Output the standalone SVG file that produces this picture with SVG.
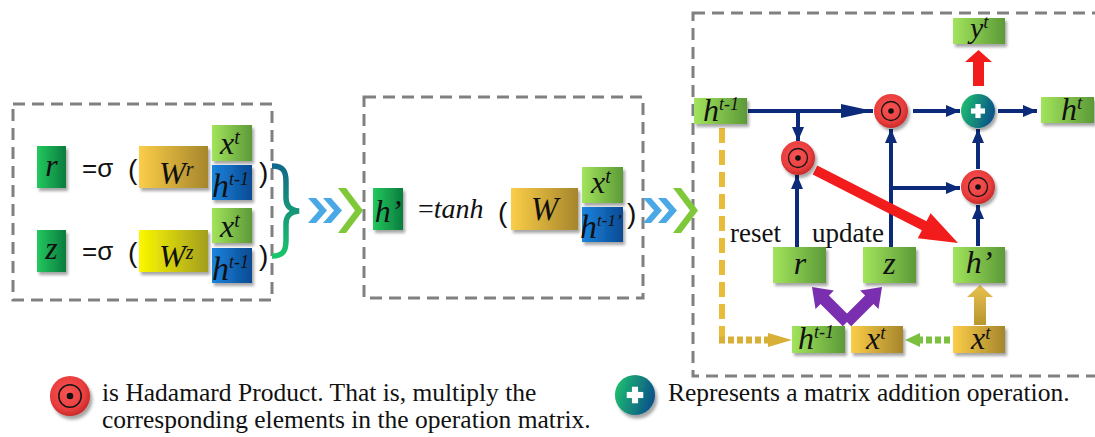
<svg xmlns="http://www.w3.org/2000/svg" width="1095" height="437" viewBox="0 0 1095 437">
  <defs>
    <linearGradient id="gDark" x1="0" y1="0" x2="1" y2="0">
      <stop offset="0" stop-color="#22c85e"/><stop offset="1" stop-color="#0b7c3e"/>
    </linearGradient>
    <linearGradient id="gLight" x1="0" y1="0" x2="1" y2="0">
      <stop offset="0" stop-color="#a2e45c"/><stop offset="1" stop-color="#5c9a38"/>
    </linearGradient>
    <linearGradient id="gBlue" x1="0" y1="0" x2="1" y2="0">
      <stop offset="0" stop-color="#1b84de"/><stop offset="1" stop-color="#0a4a92"/>
    </linearGradient>
    <linearGradient id="gGold" x1="0" y1="0" x2="1" y2="0">
      <stop offset="0" stop-color="#fbcd48"/><stop offset="1" stop-color="#a6862c"/>
    </linearGradient>
    <linearGradient id="gYellow" x1="0" y1="0" x2="1" y2="0">
      <stop offset="0" stop-color="#fcf800"/><stop offset="1" stop-color="#a29e1e"/>
    </linearGradient>
    <radialGradient id="gRed" cx="0.45" cy="0.42" r="0.6">
      <stop offset="0" stop-color="#f65454"/><stop offset="0.7" stop-color="#ea3e3e"/><stop offset="1" stop-color="#c42828"/>
    </radialGradient>
    <linearGradient id="gTeal" x1="0" y1="0" x2="1" y2="0.3">
      <stop offset="0" stop-color="#1fc86c"/><stop offset="1" stop-color="#0d5888"/>
    </linearGradient>
    <linearGradient id="gBrace" x1="0" y1="0" x2="0" y2="1">
      <stop offset="0" stop-color="#12698a"/><stop offset="1" stop-color="#1bc46a"/>
    </linearGradient>
    <linearGradient id="gGoldV" x1="0" y1="0" x2="0" y2="1">
      <stop offset="0" stop-color="#e8c050"/><stop offset="1" stop-color="#b8962e"/>
    </linearGradient>
    <filter id="sh" x="-20%" y="-20%" width="150%" height="160%">
      <feDropShadow dx="2" dy="3" stdDeviation="1.5" flood-color="#000" flood-opacity="0.35"/>
    </filter>
    <marker id="ah" viewBox="0 0 10 10" refX="10" refY="5" markerUnits="userSpaceOnUse" markerWidth="14" markerHeight="12" preserveAspectRatio="none" orient="auto">
      <path d="M0,0 L10,5 L0,10 z" fill="#0c2a7a"/>
    </marker>
    <marker id="ahL" viewBox="0 0 10 10" refX="10" refY="5" markerUnits="userSpaceOnUse" markerWidth="32" markerHeight="14" preserveAspectRatio="none" orient="auto">
      <path d="M0,0 L10,5 L0,10 z" fill="#0c2a7a"/>
    </marker>
    <g id="hadamard">
      <circle r="17" fill="url(#gRed)" filter="url(#sh)"/>
      <circle r="9.5" fill="none" stroke="#151515" stroke-width="1.3"/>
      <circle r="2.8" fill="#111"/>
    </g>
    <g id="plus">
      <circle r="17" fill="url(#gTeal)" filter="url(#sh)"/>
      <rect x="-7" y="-2.6" width="14" height="5.2" fill="#fff"/>
      <rect x="-2.6" y="-7" width="5.2" height="14" fill="#fff"/>
    </g>
    <polygon id="chevS" points="0,0 8,0 19,12.5 8,25 0,25 11,12.5"/>
    <polygon id="chevL" points="0,0 8,0 25,22.5 8,45 0,45 17,22.5"/>
  </defs>
  <style>
    .frame { fill: none; stroke: #808080; stroke-width: 3; stroke-dasharray: 12 7; }
    .box { filter: url(#sh); }
    .m { font-family: "Liberation Serif", "Times New Roman", serif; font-style: italic; fill: #111; }
    .s { font-family: "Liberation Sans", Arial, sans-serif; fill: #111; }
    .t { font-family: "Liberation Serif", "Times New Roman", serif; fill: #111; }
    .nv { stroke: #0c2a7a; stroke-width: 4; fill: none; }
    .blue { fill: #4aa8e6; }
    .green { fill: #7ec83a; }
  </style>

  <rect fill="#fff" x="0" y="0" width="1095" height="437"/>

  <!-- panel frames -->
  <g id="frames">
    <rect class="frame" x="13" y="104" width="259" height="196"/>
    <rect class="frame" x="364" y="97" width="279" height="201"/>
    <rect class="frame" x="693" y="13" width="420" height="363"/>
  </g>

  <!-- gate equations -->
  <g id="eq-r">
    <rect class="box" x="37" y="146" width="29" height="42" fill="url(#gDark)"/>
    <text class="m" x="51.5" y="176" font-size="32" text-anchor="middle">r</text>
    <text class="s" x="82" y="177" font-size="26">=σ</text>
    <text class="s" x="128" y="179" font-size="28">(</text>
    <rect class="box" x="139" y="146" width="69" height="42" fill="url(#gGold)"/>
    <text class="m" x="159" y="184" font-size="32">W<tspan font-size="20" dy="-8">r</tspan></text>
    <rect class="box" x="212" y="125" width="40" height="36" fill="url(#gLight)"/>
    <text class="m" x="220" y="154" font-size="32">x<tspan font-size="20" dy="-10">t</tspan></text>
    <rect class="box" x="212" y="165" width="40" height="35" fill="url(#gBlue)"/>
    <text class="m" x="212" y="197" font-size="34">h<tspan font-size="18" dy="-12">t-1</tspan></text>
    <text class="s" x="259" y="182" font-size="28">)</text>
  </g>
  <g id="eq-z">
    <rect class="box" x="37" y="230" width="29" height="42" fill="url(#gDark)"/>
    <text class="m" x="51.5" y="259" font-size="32" text-anchor="middle">z</text>
    <text class="s" x="82" y="260" font-size="26">=σ</text>
    <text class="s" x="128" y="262" font-size="28">(</text>
    <rect class="box" x="139" y="230" width="69" height="42" fill="url(#gYellow)"/>
    <text class="m" x="159" y="267" font-size="32">W<tspan font-size="20" dy="-8">z</tspan></text>
    <rect class="box" x="212" y="208" width="40" height="35" fill="url(#gLight)"/>
    <text class="m" x="220" y="237" font-size="32">x<tspan font-size="20" dy="-10">t</tspan></text>
    <rect class="box" x="212" y="248" width="40" height="35" fill="url(#gBlue)"/>
    <text class="m" x="212" y="280" font-size="34">h<tspan font-size="18" dy="-12">t-1</tspan></text>
    <text class="s" x="259" y="265" font-size="28">)</text>
  </g>
  <g id="brace">
    <path d="M272,166 C284,166 286,172 286,182 L286,198 C286,206 290,210 299,211 C290,212 286,216 286,224 L286,240 C286,250 284,256 272,256" fill="none" stroke="url(#gBrace)" stroke-width="5.5"/>
  </g>

  <!-- flow chevrons -->
  <g id="chevrons-1">
    <use href="#chevS" class="blue" x="308" y="198"/>
    <use href="#chevS" class="blue" x="323" y="198"/>
    <use href="#chevL" class="green" x="338" y="188"/>
  </g>

  <!-- candidate state equation -->
  <g id="eq-h">
    <rect class="box" x="373" y="188" width="30" height="42" fill="url(#gDark)"/>
    <text class="m" x="388" y="222" font-size="32" text-anchor="middle">h’</text>
    <text class="t" x="418" y="218" font-size="28">=<tspan font-style="italic">tanh</tspan></text>
    <text class="s" x="498" y="222" font-size="28">(</text>
    <rect class="box" x="511" y="188" width="67" height="42" fill="url(#gGold)"/>
    <text class="m" x="544.5" y="220" font-size="33" text-anchor="middle">W</text>
    <rect class="box" x="582" y="167" width="41" height="36" fill="url(#gLight)"/>
    <text class="m" x="591" y="193" font-size="32">x<tspan font-size="20" dy="-10">t</tspan></text>
    <rect class="box" x="582" y="207" width="41" height="35" fill="url(#gBlue)"/>
    <text class="m" x="580" y="238" font-size="34">h<tspan font-size="17" dy="-12">t-1’</tspan></text>
    <text class="s" x="627" y="223" font-size="28">)</text>
  </g>

  <g id="chevrons-2">
    <use href="#chevS" class="blue" x="643" y="198"/>
    <use href="#chevS" class="blue" x="658" y="198"/>
    <use href="#chevL" class="green" x="673" y="188"/>
  </g>

  <!-- GRU cell connectors -->
  <g id="connectors">
    <line class="nv" x1="748" y1="111" x2="873" y2="111" marker-end="url(#ahL)"/>
    <line class="nv" x1="798" y1="111" x2="798" y2="141" marker-end="url(#ah)"/>
    <line class="nv" x1="797" y1="247" x2="797" y2="175" marker-end="url(#ah)"/>
    <line class="nv" x1="891" y1="247" x2="891" y2="129" marker-end="url(#ah)"/>
    <line class="nv" x1="889" y1="188" x2="960" y2="188" marker-end="url(#ah)"/>
    <line class="nv" x1="978" y1="246" x2="978" y2="205" marker-end="url(#ah)"/>
    <line class="nv" x1="978" y1="169" x2="978" y2="129" marker-end="url(#ah)"/>
    <line class="nv" x1="913" y1="111" x2="960" y2="111" marker-end="url(#ah)"/>
    <line class="nv" x1="998" y1="111" x2="1037" y2="111" marker-end="url(#ah)"/>
    <!-- reset-gated state into candidate -->
    <polygon fill="#f21c1c" points="817.3,165.6 926.5,221.3 930.6,213.2 958,243 917.8,238.2 921.9,230.2 812.7,174.5"/>
    <!-- output -->
    <polygon fill="#f21c1c" points="973,86 973,62 965,62 978.5,50 992,62 984,62 984,86"/>
    <!-- inputs into gates -->
    <polygon fill="#7a2eb0" points="851.2,317.8 828.9,295.5 833.9,290.5 812,287 815.5,308.9 820.5,303.9 842.8,326.2"/>
    <polygon fill="#7a2eb0" points="842.8,317.8 865.1,295.5 860.1,290.5 882,287 878.5,308.9 873.5,303.9 851.2,326.2"/>
    <polygon fill="url(#gGoldV)" points="974,325 974,297 967,297 980,285 993,297 986,297 986,325"/>
    <!-- recurrent state path -->
    <line x1="722" y1="128" x2="722" y2="337" stroke="#e6bc3a" stroke-width="6" stroke-dasharray="15 7"/>
    <line x1="719" y1="340" x2="768" y2="340" stroke="#d8b038" stroke-width="7" stroke-dasharray="6 3"/>
    <polygon fill="#d8b038" points="768,333 792,340 768,347"/>
    <line x1="950" y1="340" x2="920" y2="340" stroke="#7cc040" stroke-width="7" stroke-dasharray="6 3"/>
    <polygon fill="#7cc040" points="920,333 905,340 920,347"/>
  </g>

  <!-- GRU cell nodes -->
  <g id="h-prev"><rect class="box" x="694" y="98" width="53" height="26" fill="url(#gLight)"/>
    <text class="m" x="703" y="121" font-size="32">h<tspan font-size="18" dy="-11">t-1</tspan></text></g>
  <g id="y-t"><rect class="box" x="953" y="18" width="52" height="26" fill="url(#gLight)"/>
    <text class="m" x="970" y="38" font-size="30">y<tspan font-size="19" dy="-10">t</tspan></text></g>
  <g id="h-t"><rect class="box" x="1041" y="97" width="53" height="26" fill="url(#gLight)"/>
    <text class="m" x="1061" y="120" font-size="32">h<tspan font-size="19" dy="-11">t</tspan></text></g>
  <g id="mul-top"><use href="#hadamard" x="891" y="111"/></g>
  <g id="mul-reset"><use href="#hadamard" x="798" y="158"/></g>
  <g id="mul-right"><use href="#hadamard" x="978" y="187"/></g>
  <g id="add"><use href="#plus" x="978" y="111"/></g>
  <g id="gate-r"><rect class="box" x="773" y="247" width="53" height="36" fill="url(#gLight)"/>
    <text class="m" x="800" y="274" font-size="32" text-anchor="middle">r</text></g>
  <g id="gate-z"><rect class="box" x="863" y="247" width="53" height="36" fill="url(#gLight)"/>
    <text class="m" x="889.5" y="274" font-size="32" text-anchor="middle">z</text></g>
  <g id="cand-h"><rect class="box" x="953" y="247" width="52" height="36" fill="url(#gLight)"/>
    <text class="m" x="979" y="273" font-size="32" text-anchor="middle">h’</text></g>
  <g id="in-h"><rect class="box" x="792" y="326" width="53" height="27" fill="url(#gLight)"/>
    <text class="m" x="798" y="349" font-size="32">h<tspan font-size="18" dy="-11">t-1</tspan></text></g>
  <g id="in-x"><rect class="box" x="851" y="326" width="52" height="27" fill="url(#gGold)"/>
    <text class="m" x="866" y="349" font-size="32">x<tspan font-size="19" dy="-10">t</tspan></text></g>
  <g id="x-t"><rect class="box" x="953" y="326" width="52" height="27" fill="url(#gGold)"/>
    <text class="m" x="971" y="349" font-size="32">x<tspan font-size="19" dy="-10">t</tspan></text></g>
  <g id="labels">
    <text class="t" x="730" y="242" font-size="27">reset</text>
    <text class="t" x="812" y="242" font-size="27">update</text>
  </g>

  <!-- legend -->
  <g id="legend-mul">
    <use href="#hadamard" transform="translate(70,396) scale(1.18)"/>
    <text class="t" x="102" y="401" font-size="25.5">is Hadamard Product. That is, multiply the</text>
    <text class="t" x="102" y="428" font-size="25.5">corresponding elements in the operation matrix.</text>
  </g>
  <g id="legend-add">
    <use href="#plus" transform="translate(635,395) scale(1.18)"/>
    <text class="t" x="668" y="401" font-size="25.5">Represents a matrix addition operation.</text>
  </g>
</svg>
